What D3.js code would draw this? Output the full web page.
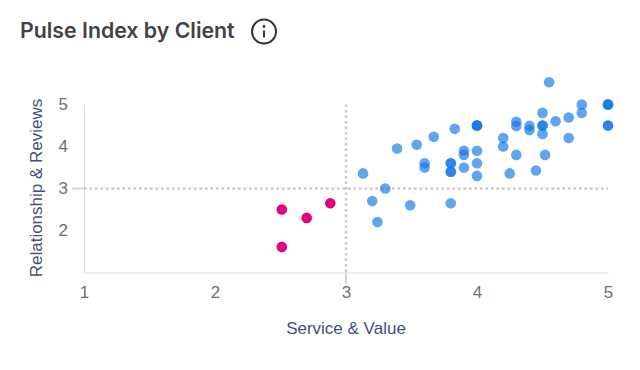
<!DOCTYPE html>
<html>
<head>
<meta charset="UTF-8">
<title>Pulse Index by Client</title>
<style>
  html, body { margin: 0; padding: 0; background: #fff; }
  .tick text { font-family: "Liberation Sans", Arial, sans-serif; font-size: 17px; fill: #6f6f6f; }
  .axisTitle { font-family: "Liberation Sans", Arial, sans-serif; font-size: 17px; fill: #44517a; text-anchor: middle; }
  .title { font-family: Inter, sans-serif; font-size: 21.3px; font-weight: 600; fill: #434343; }
</style>
</head>
<body>
<script src="https://d3js.org/d3.v7.min.js"></script>
<script>
var xTicks = [1, 2, 3, 4, 5];
var yTicks = [2, 3, 4, 5];

// clients above the service threshold (some share the same score)
var blueX = [4.55, 4.8, 4.8, 5, 5, 5, 5, 5, 4.5, 4.6, 4.7, 4.7, 4.3, 4.3, 4.4, 4.4, 4.5, 4.5, 4.5, 4.2, 4.2, 4.3, 4.52, 4.25, 4.45,
  4, 4, 4, 4, 4, 4, 3.9, 3.9, 3.9, 3.8, 3.8, 3.8, 3.8, 3.83, 3.67, 3.54, 3.39, 3.6, 3.6, 3.13, 3.3, 3.2, 3.24, 3.49, 3.8];
var blueY = [5.53, 5, 4.8, 5, 5, 5, 4.5, 4.5, 4.8, 4.6, 4.69, 4.2, 4.59, 4.49, 4.49, 4.39, 4.5, 4.5, 4.3, 4.2, 4, 3.8, 3.8, 3.36, 3.43,
  4.5, 4.5, 4.5, 3.9, 3.6, 3.3, 3.9, 3.8, 3.5, 3.6, 3.6, 3.4, 3.4, 4.42, 4.23, 4.04, 3.95, 3.6, 3.5, 3.36, 3, 2.7, 2.2, 2.6, 2.65];

// clients below it
var pinkX = [2.51, 2.51, 2.7, 2.88];
var pinkY = [2.5, 1.61, 2.3, 2.65];

var svg = d3.select("body").append("svg")
  .attr("width", 640)
  .attr("height", 370)
  .style("display", "block");

var x = d3.scaleLinear().domain([1, 5]).range([84, 608]);
var y = d3.scaleLinear().domain([1, 5]).range([272.5, 104.5]);

// title and info icon
svg.append("text").attr("class", "title").attr("x", 20).attr("y", 38).text("Pulse Index by Client");
var info = svg.append("g").attr("transform", "translate(264,31.5)");
info.append("circle").attr("r", 12).attr("fill", "none").attr("stroke", "#333").attr("stroke-width", 2);
info.append("circle").attr("cy", -5).attr("r", 1.4).attr("fill", "#333");
info.append("line").attr("y1", -1).attr("y2", 6).attr("stroke", "#333").attr("stroke-width", 2);

// axes
var xAxis = d3.axisBottom(x).tickValues(xTicks).tickFormat(d3.format("d")).tickSize(0).tickPadding(13);
var yAxis = d3.axisLeft(y).tickValues(yTicks).tickFormat(d3.format("d")).tickSize(0).tickPadding(16);

svg.append("g").attr("transform", "translate(0,272.5)").call(xAxis)
  .call(function(g) { g.select(".domain").attr("stroke", "#dcdde1"); });
svg.append("g").attr("transform", "translate(84,0)").call(yAxis)
  .call(function(g) { g.select(".domain").attr("stroke", "#dcdde1"); });

// threshold lines
svg.append("line")
  .attr("x1", x(1)).attr("x2", x(5)).attr("y1", y(3)).attr("y2", y(3))
  .attr("stroke", "#c9cacd").attr("stroke-width", 2.5).attr("stroke-dasharray", "2.5 3");
svg.append("line")
  .attr("x1", x(3)).attr("x2", x(3)).attr("y1", y(5)).attr("y2", y(1))
  .attr("stroke", "#c9cacd").attr("stroke-width", 2.5).attr("stroke-dasharray", "2.5 3");
// little stubs where the thresholds leave the plot
svg.append("line").attr("x1", x(1) - 12).attr("x2", x(1)).attr("y1", y(3)).attr("y2", y(3))
  .attr("stroke", "#d5d6da").attr("stroke-width", 2);
svg.append("line").attr("x1", x(3)).attr("x2", x(3)).attr("y1", y(1)).attr("y2", y(1) + 11)
  .attr("stroke", "#d5d6da").attr("stroke-width", 2);

svg.append("text").attr("class", "axisTitle").attr("x", 346).attr("y", 334).text("Service & Value");
svg.append("text").attr("class", "axisTitle")
  .attr("transform", "translate(42,188) rotate(-90)")
  .text("Relationship & Reviews");

// points
svg.append("g").selectAll("circle")
  .data(d3.range(blueX.length))
  .enter().append("circle")
  .attr("cx", function(i) { return x(blueX[i]); })
  .attr("cy", function(i) { return y(blueY[i]); })
  .attr("r", 5.3)
  .attr("fill", "#0f77e6")
  .attr("fill-opacity", 0.66);

svg.append("g").selectAll("circle")
  .data(d3.range(pinkX.length))
  .enter().append("circle")
  .attr("cx", function(i) { return x(pinkX[i]); })
  .attr("cy", function(i) { return y(pinkY[i]); })
  .attr("r", 5.3)
  .attr("fill", "#e5007d");
</script>
</body>
</html>
